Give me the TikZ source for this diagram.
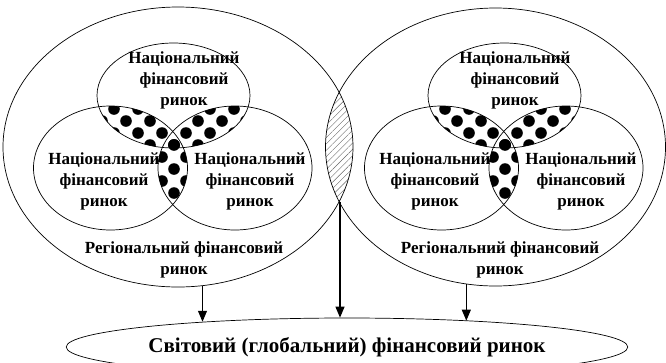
\documentclass[tikz,border=0pt]{standalone}
\usepackage{fontspec}
\setmainfont{Liberation Serif}
\usetikzlibrary{arrows.meta, shapes.geometric, patterns.meta}

% staggered field of big dots, clipped by the caller
\newcommand\dotfield{%
  \foreach \i in {0,...,12}{\foreach \j in {0,...,6}{
    \fill (30+24*\i,73+24*\j) circle (5.8pt);
    \fill (42+24*\i,85+24*\j) circle (5.8pt);}}}

\begin{document}
\begin{tikzpicture}[
    x=1pt, y=-1pt,
    oval/.style={ellipse, draw, line width=0.7pt, inner sep=0pt},
    lbl/.style={font=\fontsize{17}{21}\selectfont\bfseries, align=center},
    arr/.style={-{Triangle[length=11pt, width=9pt]}, line width=1.1pt}
  ]
  \useasboundingbox (0,0) rectangle (666,362);

  % hatched overlap of the two regions
  \begin{scope}
    \clip (178,147) ellipse (175pt and 140pt);
    \fill[pattern={Lines[angle=45, distance=4.5pt, line width=0.4pt]}, pattern color=black!60]
      (495.5,147) ellipse (170pt and 139pt);
  \end{scope}

  % dotted overlaps of the national markets
  \foreach \dx in {0,331}{
    \begin{scope}[xshift=\dx pt]
      \begin{scope}
        \clip (173.5,95.5) ellipse (76.5pt and 52.5pt);
        \clip (110.5,168) ellipse (77pt and 62pt);
        \dotfield
      \end{scope}
      \begin{scope}
        \clip (173.5,95.5) ellipse (76.5pt and 52.5pt);
        \clip (235,168) ellipse (77pt and 62pt);
        \dotfield
      \end{scope}
      \begin{scope}
        \clip (110.5,168) ellipse (77pt and 62pt);
        \clip (235,168) ellipse (77pt and 62pt);
        \dotfield
      \end{scope}
    \end{scope}
  }

  % regions
  \node[oval, minimum width=350pt, minimum height=280pt] (regL) at (178,147) {};
  \node[oval, minimum width=340pt, minimum height=278pt] (regR) at (495.5,147) {};
  \coordinate (lensB) at (340,201.5);

  % national markets
  \foreach \dx/\g in {0/L,331/R}{
    \node[oval, minimum width=153pt, minimum height=105pt] (top\g) at (173.5+\dx,95.5) {};
    \node[oval, minimum width=154pt, minimum height=124pt] (left\g) at (110.5+\dx,168) {};
    \node[oval, minimum width=154pt, minimum height=124pt] (right\g) at (235+\dx,168) {};
    \node[lbl] (topt\g) at (184+\dx,80) {Національний\\фінансовий\\ринок};
    \node[lbl] (leftt\g) at (104+\dx,181.5) {Національний\\фінансовий\\ринок};
    \node[lbl] (rightt\g) at (250+\dx,181.5) {Національний\\фінансовий\\ринок};
  }
  \node[lbl] (regtL) at (184,260) {Регіональний фінансовий\\ринок};
  \node[lbl] (regtR) at (500,260) {Регіональний фінансовий\\ринок};

  % world market
  \node[oval, lbl, font=\fontsize{21}{25}\selectfont\bfseries,
        minimum width=550pt, minimum height=58pt] (world) at (347,347)
    {Світовий (глобальний) фінансовий ринок};

  \draw[arr] (regL.-80) -- (regL.-80 |- world.170);
  \draw[arr] (lensB) -- (lensB |- world.north);
  \draw[arr] (regR.-102) -- (regR.-102 |- world.12);
\end{tikzpicture}
\end{document}
